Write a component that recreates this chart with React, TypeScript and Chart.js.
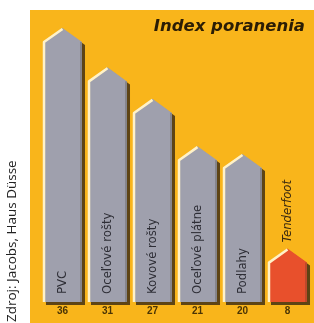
import React, { useEffect, useRef } from "react";
import { Chart, registerables } from "chart.js";

Chart.register(...registerables);

const categories = ["PVC", "Oceľové rošty", "Kovové rošty", "Oceľové plátne", "Podlahy", "Tenderfoot"];
const values = [36, 31, 27, 21, 20, 8];
const valueLabels = ["36", "31", "27", "21", "20", "8"];
const titleText = "Index poranenia";
const sourceText = "Zdroj: Jacobs, Haus Düsse";

const grayFill = "#9fa0ad";
const highlightFill = "#e8502c";
const barFills = [grayFill, grayFill, grayFill, grayFill, grayFill, highlightFill];
const panelColor = "#f9b51b";

const housePlugin = {
  id: "housePlugin",
  beforeDraw(chart: any) {
    const ctx = chart.ctx;
    ctx.save();
    ctx.fillStyle = "#ffffff";
    ctx.fillRect(0, 0, chart.width, chart.height);
    ctx.fillStyle = panelColor;
    ctx.fillRect(30, 10, chart.width - 30, chart.height - 10);
    ctx.restore();
  },
  afterDatasetsDraw(chart: any) {
    const ctx = chart.ctx;
    const meta = chart.getDatasetMeta(0);
    meta.data.forEach((el: any, i: number) => {
      const { x, y, base, width } = el.getProps(["x", "y", "base", "width"], true);
      const left = x - width / 2;
      const right = x + width / 2;
      const roofH = width * 0.36;
      const path = (dx: number, dy: number) => {
        ctx.beginPath();
        ctx.moveTo(left + dx, base + dy);
        ctx.lineTo(left + dx, y + dy);
        ctx.lineTo(x + dx, y - roofH + dy);
        ctx.lineTo(right + dx, y + dy);
        ctx.lineTo(right + dx, base + dy);
        ctx.closePath();
      };
      ctx.save();
      ctx.fillStyle = "#5e4414";
      path(3, 3);
      ctx.fill();
      ctx.fillStyle = barFills[i];
      path(0, 0);
      ctx.fill();
      ctx.strokeStyle = "rgba(60,50,40,0.25)";
      ctx.lineWidth = 2;
      ctx.beginPath();
      ctx.moveTo(right - 1, base);
      ctx.lineTo(right - 1, y);
      ctx.stroke();
      ctx.strokeStyle = "#fff2c8";
      ctx.lineWidth = 2.5;
      ctx.lineJoin = "round";
      ctx.beginPath();
      ctx.moveTo(left + 1, base);
      ctx.lineTo(left + 1, y);
      ctx.lineTo(x, y - roofH + 1);
      ctx.stroke();
      ctx.restore();

      const label = categories[i];
      ctx.save();
      ctx.font = "13px 'Liberation Sans Narrow', 'DejaVu Sans Condensed', 'Liberation Sans', sans-serif";
      const tw = ctx.measureText(label).width;
      const inside = tw + 12 < base - y;
      if (inside) {
        ctx.translate(x, base - 8);
        ctx.fillStyle = "#2e2e36";
      } else {
        ctx.font = "italic 13px 'Liberation Sans Narrow', 'DejaVu Sans Condensed', 'Liberation Sans', sans-serif";
        ctx.translate(x, y - roofH - 6);
        ctx.fillStyle = "#3a2a10";
      }
      ctx.rotate(-Math.PI / 2);
      ctx.textAlign = "left";
      ctx.textBaseline = "middle";
      ctx.fillText(label, 0, 0);
      ctx.restore();
    });
  },
  afterDraw(chart: any) {
    const ctx = chart.ctx;
    ctx.save();
    ctx.fillStyle = "#2b1d05";
    ctx.font = "italic bold 16.5px 'DejaVu Sans', sans-serif";
    ctx.textAlign = "right";
    ctx.textBaseline = "alphabetic";
    ctx.fillText(titleText, 305, 31);
    ctx.restore();

    ctx.save();
    ctx.translate(16, 322);
    ctx.rotate(-Math.PI / 2);
    ctx.fillStyle = "#222222";
    ctx.font = "13.5px 'Open Sans', sans-serif";
    ctx.textAlign = "left";
    ctx.textBaseline = "alphabetic";
    ctx.fillText(sourceText, 0, 0);
    ctx.restore();
  },
};

export default function App() {
  const ref = useRef<HTMLCanvasElement | null>(null);
  useEffect(() => {
    if (!ref.current) return;
    const chart = new Chart(ref.current, {
      type: "bar",
      data: {
        labels: categories,
        datasets: [
          {
            data: values,
            base: 3,
            backgroundColor: "rgba(0,0,0,0)",
            borderWidth: 0,
            barPercentage: 0.867,
            categoryPercentage: 1,
          } as any,
        ],
      },
      options: {
        responsive: false,
        animation: false,
        layout: { padding: { top: 42, left: 40, right: 4, bottom: 3 } },
        plugins: {
          legend: { display: false },
          tooltip: { enabled: false },
          title: { display: false },
        },
        scales: {
          x: {
            grid: { display: false, drawTicks: false },
            border: { display: false },
            ticks: {
              callback: (_v: any, i: number) => valueLabels[i],
              font: { family: "'Liberation Sans', sans-serif", size: 10, weight: "bold" },
              color: "#4a3405",
              padding: 3,
              maxRotation: 0,
            },
          },
          y: { display: false, min: 3, max: 36 },
        },
      },
      plugins: [housePlugin],
    });
    return () => chart.destroy();
  }, []);
  return (
    <div style={{ position: "absolute", left: 0, top: 0, width: 314, height: 323 }}>
      <canvas ref={ref} width={314} height={323} style={{ display: "block" }} />
    </div>
  );
}
